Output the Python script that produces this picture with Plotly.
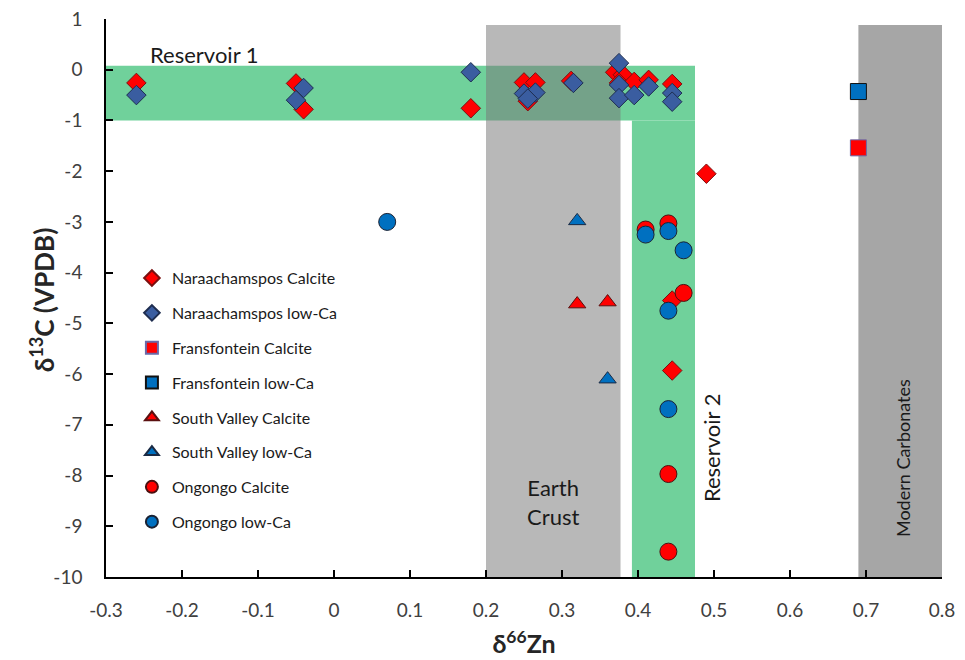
import plotly.graph_objects as go

# ---- data ----
nara_calc_x = [-0.26, -0.05, -0.04, 0.18, 0.25, 0.265, 0.255, 0.312, 0.37, 0.38, 0.375, 0.395, 0.414, 0.445, 0.49, 0.445, 0.445]
nara_calc_y = [-0.26, -0.27, -0.78, -0.76, -0.25, -0.25, -0.62, -0.22, -0.05, -0.10, -0.26, -0.24, -0.20, -0.28, -2.05, -4.55, -5.93]
nara_low_x = [-0.26, -0.05, -0.04, 0.18, 0.25, 0.265, 0.255, 0.315, 0.375, 0.375, 0.375, 0.395, 0.414, 0.445, 0.445]
nara_low_y = [-0.50, -0.60, -0.36, -0.05, -0.47, -0.45, -0.57, -0.26, 0.13, -0.30, -0.56, -0.50, -0.33, -0.46, -0.63]
fran_calc_x = [0.69]
fran_calc_y = [-1.54]
fran_low_x = [0.69]
fran_low_y = [-0.43]
sv_calc_x = [0.32, 0.36]
sv_calc_y = [-4.62, -4.58]
sv_low_x = [0.32, 0.36]
sv_low_y = [-2.98, -6.10]
ong_calc_x = [0.41, 0.44, 0.46, 0.44, 0.44]
ong_calc_y = [-3.15, -3.03, -4.40, -7.97, -9.50]
ong_low_x = [0.07, 0.41, 0.44, 0.46, 0.44, 0.44]
ong_low_y = [-3.00, -3.25, -3.18, -3.56, -4.75, -6.69]

x_ticks = [-0.3, -0.2, -0.1, 0, 0.1, 0.2, 0.3, 0.4, 0.5, 0.6, 0.7, 0.8]
y_ticks = [1, 0, -1, -2, -3, -4, -5, -6, -7, -8, -9, -10]

RED = "#ff0000"
NAVY = "#3a5da0"
BLUE = "#0070c0"
FONT = "Lato"

fig = go.Figure()

series = [
    ("Naraachamspos Calcite", nara_calc_x, nara_calc_y, "diamond", RED, "#7a1010", 15),
    ("Naraachamspos low-Ca", nara_low_x, nara_low_y, "diamond", NAVY, "#1e2d4f", 15),
    ("Fransfontein Calcite", fran_calc_x, fran_calc_y, "square", RED, "#6a6aa8", 16),
    ("Fransfontein low-Ca", fran_low_x, fran_low_y, "square", BLUE, "#111111", 16),
    ("South Valley Calcite", sv_calc_x, sv_calc_y, "triangle-up", RED, "#5a1010", 15),
    ("South Valley low-Ca", sv_low_x, sv_low_y, "triangle-up", BLUE, "#1a2a44", 15),
    ("Ongongo Calcite", ong_calc_x, ong_calc_y, "circle", RED, "#4a1010", 17),
    ("Ongongo low-Ca", ong_low_x, ong_low_y, "circle", BLUE, "#1a2233", 17),
]
for name, xs, ys, sym, col, lcol, sz in series:
    fig.add_trace(go.Scatter(
        x=xs, y=ys, mode="markers", name=name, legendgroup=name,
        marker=dict(symbol=sym, color=col, size=sz, line=dict(color=lcol, width=1)),
    ))

GREEN = "#70d19b"
# Reservoir 1 (horizontal band) and Reservoir 2 (vertical band)
fig.add_shape(type="rect", x0=-0.3, x1=0.475, y0=-1.0, y1=0.08, fillcolor=GREEN, line_width=0, layer="below")
fig.add_shape(type="rect", x0=0.392, x1=0.475, y0=-10, y1=-1.0, fillcolor=GREEN, line_width=0, layer="below")
# Earth crust (semi-transparent grey)
fig.add_shape(type="rect", x0=0.2, x1=0.377, y0=-10, y1=0.88, fillcolor="rgba(120,120,120,0.53)", line_width=0, layer="below")
# Modern carbonates
fig.add_shape(type="rect", x0=0.69, x1=0.8, y0=-10, y1=0.88, fillcolor="#a6a6a6", line_width=0, layer="below")

ann_font = dict(family=FONT, size=22, color="#1a1a1a")
fig.add_annotation(x=-0.171, y=0.31, text="Reservoir 1", showarrow=False, font=ann_font)
fig.add_annotation(x=0.288, y=-8.53, text="Earth<br>Crust", showarrow=False, font=ann_font)
fig.add_annotation(x=0.496, y=-7.44, text="Reservoir 2", showarrow=False, textangle=-90, font=ann_font)
fig.add_annotation(x=0.749, y=-7.65, text="Modern Carbonates", showarrow=False, textangle=-90,
                   font=dict(family=FONT, size=18, color="#1a1a1a"))

# y-axis title as a positioned annotation
fig.add_annotation(xref="paper", yref="paper", x=-0.0764, y=0.496, xanchor="center", yanchor="middle",
                   text="<b>δ<sup>13</sup>C (VPDB)</b>", showarrow=False, textangle=-90,
                   font=dict(family=FONT, size=26, color="#262626"))

axis_common = dict(
    showgrid=False, zeroline=False, showline=True, linecolor="#000000", linewidth=1.5,
    ticks="inside", ticklen=7, tickcolor="#000000", tickwidth=1.5,
    tickfont=dict(family=FONT, size=19, color="#404040"), automargin=False,
    ticklabeloverflow="allow",
)
fig.update_xaxes(range=[-0.3, 0.8], tickvals=x_ticks, ticktext=[f"{v:g}" for v in x_ticks],
                 ticklabelstandoff=15,
                 title=dict(text="<b>δ<sup>66</sup>Zn</b>", font=dict(family=FONT, size=25, color="#262626"), standoff=16),
                 **axis_common)
fig.update_yaxes(range=[-10, 1], tickvals=y_ticks, ticktext=[str(v) for v in y_ticks],
                 ticklabelstandoff=18,
                 **axis_common)

# the page body adds a small offset; margins compensate so the plot area lands where the reference has it
fig.update_layout(
    width=965, height=660,
    margin=dict(l=98, r=31, t=11, b=91),
    plot_bgcolor="white", paper_bgcolor="white",
    legend=dict(x=0.031, y=0.566, xanchor="left", yanchor="top", bgcolor="rgba(0,0,0,0)",
                font=dict(family=FONT, size=16, color="#1a1a1a"), itemsizing="constant",
                tracegroupgap=11, traceorder="grouped"),
)

fig.write_html("out.html")
